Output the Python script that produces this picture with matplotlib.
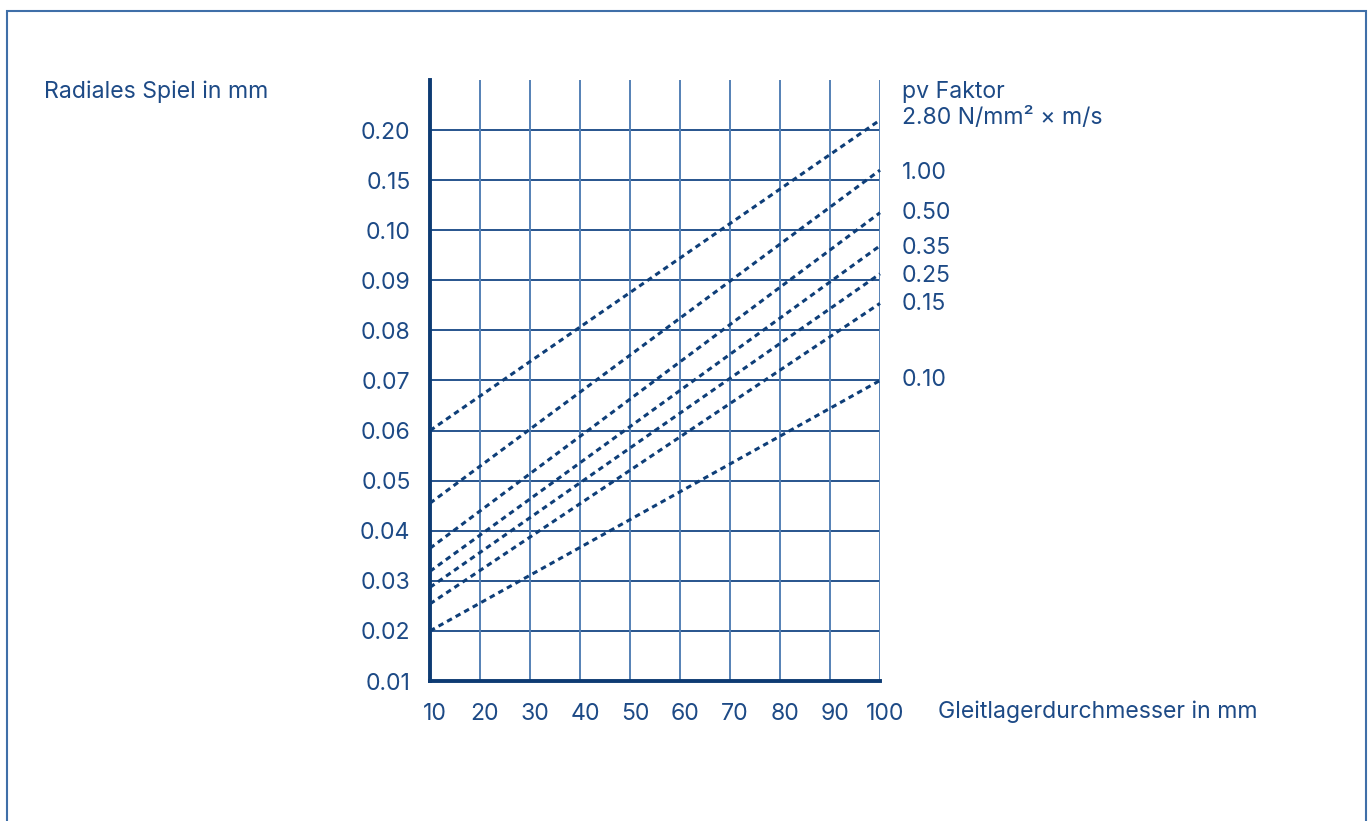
import numpy as np
import matplotlib
matplotlib.use("Agg")
import matplotlib.pyplot as plt
from matplotlib.patches import Rectangle
from matplotlib.transforms import ScaledTranslation

# ---- data ----
y_tick_values = [0.01, 0.02, 0.03, 0.04, 0.05, 0.06, 0.07, 0.08, 0.09, 0.10, 0.15, 0.20]
y_tick_labels = ["0.01", "0.02", "0.03", "0.04", "0.05", "0.06", "0.07", "0.08", "0.09", "0.10", "0.15", "0.20"]
x_ticks = [10, 20, 30, 40, 50, 60, 70, 80, 90, 100]
x_range = [10, 100]
series_labels = ["2.80 N/mm\u00b2 \u00d7 m/s", "1.00", "0.50", "0.35", "0.25", "0.15", "0.10"]
start_values = [0.060, 0.0455, 0.0365, 0.0319, 0.0287, 0.0254, 0.020]
end_values = [0.210, 0.160, 0.1175, 0.0969, 0.0913, 0.0854, 0.070]

# piecewise scale knots (equal spacing per tick step)
scale_knots = [0.01, 0.02, 0.03, 0.04, 0.05, 0.06, 0.07, 0.08, 0.09, 0.10, 0.15, 0.20, 0.25]
scale_pos = np.arange(len(scale_knots), dtype=float)

def fwd(v):
    return np.interp(v, scale_knots, scale_pos)

def inv(p):
    return np.interp(p, scale_pos, scale_knots)

TEXT = "#1d4a86"
HGRID = "#164785"
VGRID = "#5581b5"
LINE = "#0e3e78"
SPINE = "#0d3b73"
FS = 16.6

plt.rcParams['font.family'] = ['Inter', 'DejaVu Sans']

fig = plt.figure(figsize=(13.7, 8.21), dpi=100)
ax = fig.add_axes([430/1370, 140/821, 450/1370, 601/821])
ax.set_yscale('function', functions=(fwd, inv))
ax.set_xlim(*x_range)
ax.set_ylim(0.01, 0.25)

ax.set_yticks(y_tick_values)
ax.set_yticklabels(y_tick_labels)
ax.set_xticks(x_ticks)
ax.set_xticklabels([str(t) for t in x_ticks])
ax.minorticks_off()
ax.tick_params(axis='both', length=0, labelsize=FS, labelcolor=TEXT)
ax.tick_params(axis='y', pad=14)
ax.tick_params(axis='x', pad=16)
offset = ScaledTranslation(5/100, 0, fig.dpi_scale_trans)
for lbl in ax.get_xticklabels():
    lbl.set_transform(lbl.get_transform() + offset)

for yv in y_tick_values[1:]:
    ax.axhline(yv, color=HGRID, lw=1.3, zorder=1)
for xv in x_ticks[1:]:
    ax.axvline(xv, color=VGRID, lw=1.4, zorder=1)

for s in ['top', 'right']:
    ax.spines[s].set_visible(False)
for s in ['left', 'bottom']:
    ax.spines[s].set_color(SPINE)
    ax.spines[s].set_linewidth(2.8)

for sv, ev in zip(start_values, end_values):
    ax.plot(x_range, [sv, ev], color=LINE, lw=2.2, linestyle=(0, (1.8, 1.4)),
            zorder=3, clip_on=False)

# right-side labels
label_y_px = [118, 173, 213, 248, 276, 304, 380]
for lab, ypx in zip(series_labels, label_y_px):
    fig.text(902/1370, 1 - ypx/821, lab, color=TEXT, fontsize=FS, va='center', ha='left')
fig.text(902/1370, 1 - 92/821, "pv Faktor", color=TEXT, fontsize=FS, va='center', ha='left')

fig.text(44/1370, 1 - 92/821, "Radiales Spiel in mm", color=TEXT, fontsize=FS, va='center', ha='left')
fig.text(938/1370, 1 - 712/821, "Gleitlagerdurchmesser in mm", color=TEXT, fontsize=FS, va='center', ha='left')

# outer frame
fig.patches.append(Rectangle((6.5/1370, -0.05), (1366-6.5)/1370, 1.05 - 11/821,
                             transform=fig.transFigure, fill=False,
                             edgecolor="#3f6fa8", lw=1.5))

fig.savefig("out.png", dpi=100)
